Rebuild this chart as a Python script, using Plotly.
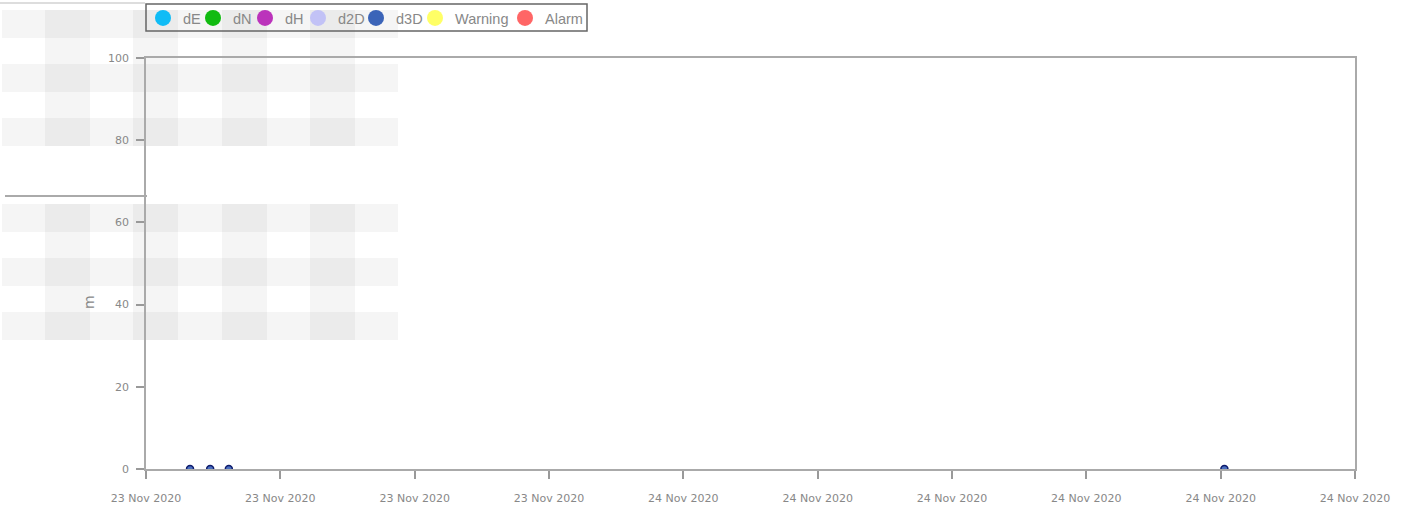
import plotly.graph_objects as go

# ---- data ----
series_names = ["dE", "dN", "dH", "d2D", "d3D", "Warning", "Alarm"]
series_colors = ["#10bcf6", "#11bb11", "#bb33bb", "#c2c2f6", "#3b64b8", "#ffff66", "#ff6666"]

d3d_times = ["2020-11-23 12:59", "2020-11-23 13:26", "2020-11-23 13:51", "2020-11-24 12:05"]
d3d_values = [0.02, 0.02, 0.02, 0.02]

y_ticks = [0, 20, 40, 60, 80, 100]
x_range = ["2020-11-23 12:00", "2020-11-24 15:00"]

# ---- layout geometry (page pixels) ----
W, H = 1403, 512
PL, PR, PT, PB = 146, 1355, 58, 469          # plot area in page coordinates
L, R, T, B = PL, W - PR, PT, H - PB


def px(x):
    return (x - PL) / (PR - PL)


def py(y):
    return (PB - y) / (PB - PT)


fig = go.Figure()

# data trace
fig.add_trace(go.Scatter(
    x=d3d_times, y=d3d_values, mode="markers", showlegend=False,
    marker=dict(size=7, color="#4a6fc0", line=dict(color="#0d1b6b", width=1.5)),
    cliponaxis=True,
))

# legend entries: one small legend per entry so spacing matches
legend_centers = [163, 213, 265, 318, 376, 435, 525]
legend_font = dict(family="Liberation Sans", size=14.5, color="#888888")
layout_legends = {}
for i, (name, col) in enumerate(zip(series_names, series_colors)):
    key = "legend" if i == 0 else f"legend{i + 1}"
    fig.add_trace(go.Scatter(
        x=[None], y=[None], mode="markers", name=name, legend=key,
        marker=dict(size=18, color=col),
    ))
    layout_legends[key] = dict(
        orientation="h", x=px(legend_centers[i] - 20), xanchor="left",
        y=py(2), yanchor="top", borderwidth=0, bgcolor="rgba(255,255,255,0)",
        font=legend_font, itemwidth=30,
    )

# legend frame + faint background pattern (decorative)
shapes = [dict(type="rect", xref="paper", yref="paper", layer="above",
               x0=px(146), x1=px(587), y0=py(4), y1=py(31),
               line=dict(color="#666666", width=1.5), fillcolor="rgba(0,0,0,0)")]
gray = "rgba(0,0,0,0.04)"
for top in (10, 204):
    for off in (0, 54, 108):
        shapes.append(dict(type="rect", xref="paper", yref="paper", layer="below",
                           x0=px(2), x1=px(398), y0=py(top + off), y1=py(top + off + 28),
                           fillcolor=gray, line=dict(width=0)))
    for vx in (45, 133, 222, 310):
        shapes.append(dict(type="rect", xref="paper", yref="paper", layer="below",
                           x0=px(vx), x1=px(vx + 45), y0=py(top), y1=py(top + 136),
                           fillcolor=gray, line=dict(width=0)))
shapes.append(dict(type="line", xref="paper", yref="paper", layer="below",
                   x0=px(0), x1=px(145), y0=py(3), y1=py(3),
                   line=dict(color="#bbbbbb", width=1)))
shapes.append(dict(type="line", xref="paper", yref="paper", layer="below",
                   x0=px(5), x1=px(147), y0=py(196), y1=py(196),
                   line=dict(color="#aaaaaa", width=2)))

tick_font = dict(family="DejaVu Sans", size=11, color="#888888")

fig.update_layout(
    width=W, height=H,
    margin=dict(l=L, r=R, t=T, b=B, autoexpand=False),
    paper_bgcolor="white",
    plot_bgcolor="rgba(0,0,0,0)",
    shapes=shapes,
    showlegend=True,
    annotations=[dict(text="m", xref="paper", yref="paper", x=px(89), y=py(302),
                      xanchor="center", yanchor="middle",
                      showarrow=False, textangle=-90,
                      font=dict(family="DejaVu Sans", size=14, color="#888888"))],
    xaxis=dict(
        type="date", range=x_range, dtick=3 * 3600 * 1000,
        tick0="2020-11-23 12:00", tickformat="%d %b %Y",
        showgrid=False, zeroline=False,
        showline=True, linecolor="#aaaaaa", linewidth=1.5, mirror=True,
        ticks="outside", ticklen=8, tickcolor="#999999", tickwidth=1.5,
        tickfont=tick_font, ticklabelstandoff=10,
    ),
    yaxis=dict(
        range=[0, 100], tickvals=y_ticks,
        showgrid=False, zeroline=False,
        showline=True, linecolor="#aaaaaa", linewidth=1.5, mirror=True,
        ticks="outside", ticklen=8, tickcolor="#999999", tickwidth=1.5,
        tickfont=tick_font, ticklabelstandoff=5,
    ),
    **layout_legends,
)

fig.write_html("out.html", config={"displayModeBar": False},
               post_script="document.body.style.margin='0';")
